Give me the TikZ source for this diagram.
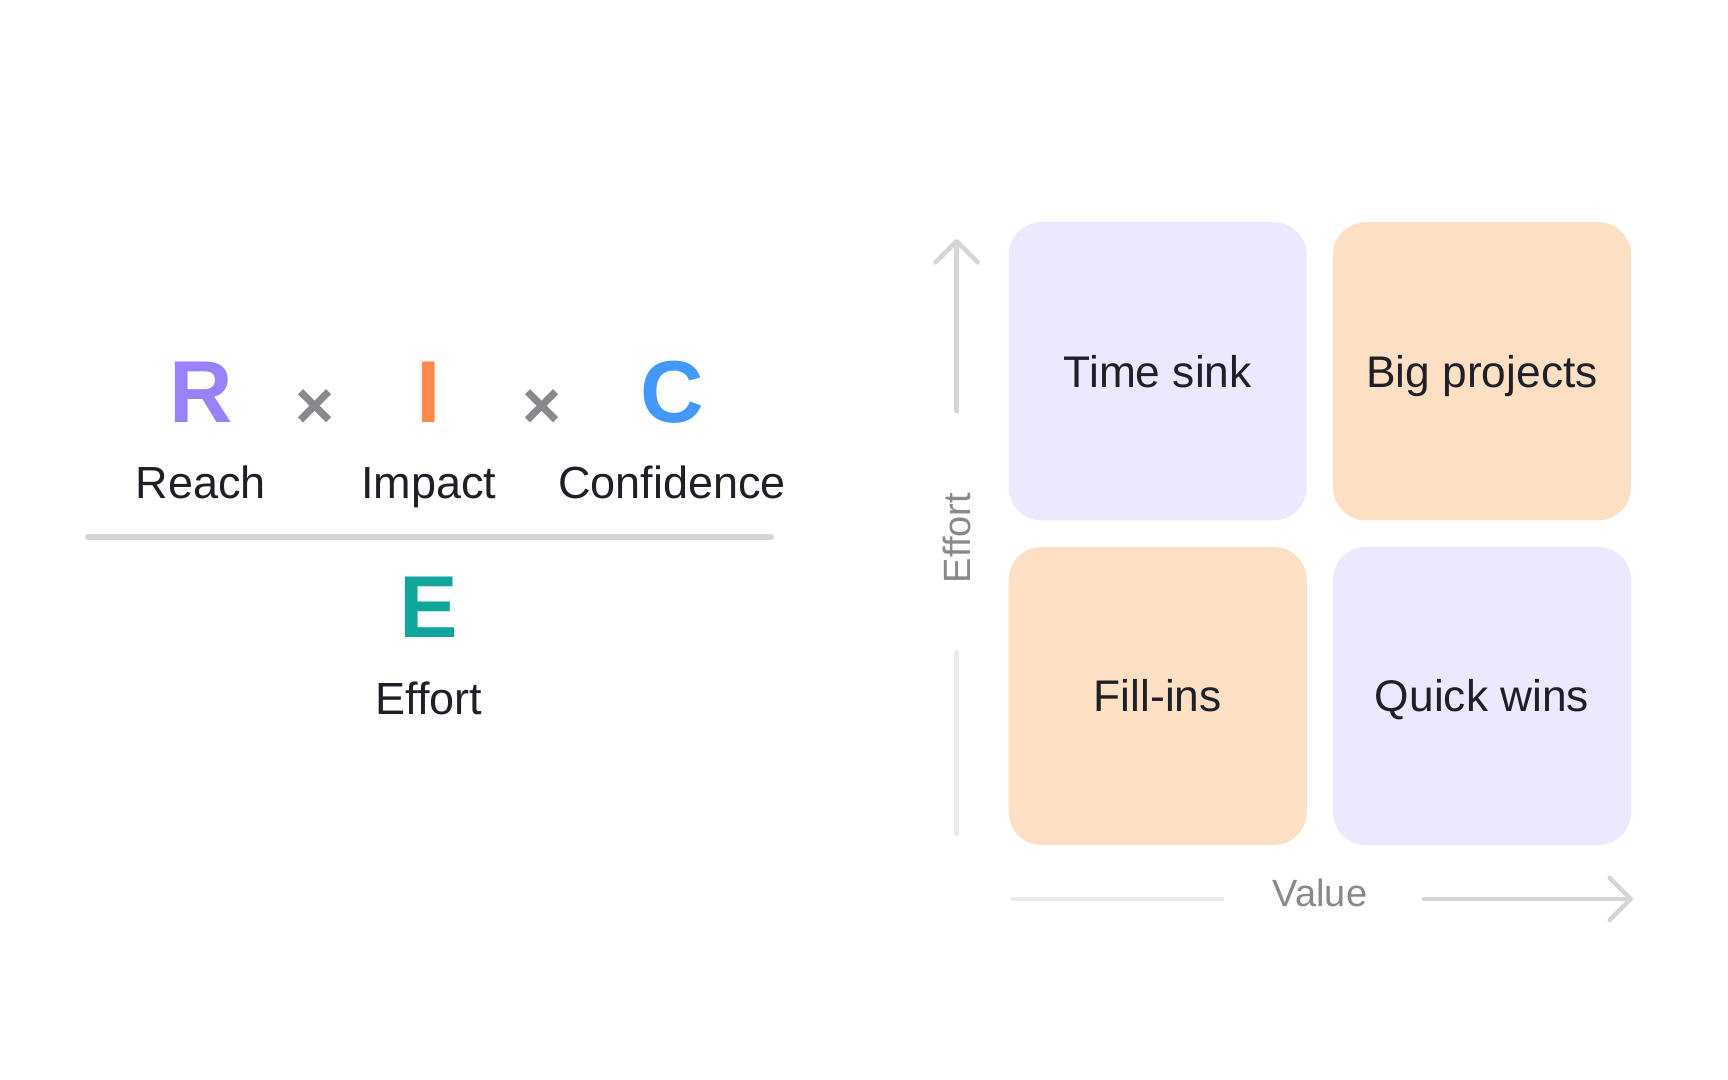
\documentclass[tikz,border=0pt]{standalone}
\usepackage{fontspec}
\setmainfont{Liberation Sans}
\usetikzlibrary{positioning,arrows.meta}
\definecolor{ink}{HTML}{1F1F28}
\definecolor{reachc}{HTML}{9A80FA}
\definecolor{impactc}{HTML}{FF884A}
\definecolor{confc}{HTML}{4299FB}
\definecolor{effortc}{HTML}{12A59C}
\definecolor{mutec}{HTML}{88888E}
\definecolor{axisdark}{HTML}{D5D5D7}
\definecolor{axislight}{HTML}{EAEAEB}
\definecolor{lav}{HTML}{ECE8FD}
\definecolor{peach}{HTML}{FDDFC3}

\begin{document}
\begin{tikzpicture}[x=0.01cm, y=-0.01cm,
  letter/.style={font=\fontsize{25}{25}\selectfont\bfseries, inner sep=0pt},
  lbl/.style={font=\fontsize{12.8}{14}\selectfont, text=ink, inner sep=0pt, anchor=base},
  timesop/.style={font=\fontsize{19}{19}\selectfont\bfseries, text=mutec, inner sep=0pt},
  quad/.style={rounded corners=0.33cm, minimum width=2.98cm, minimum height=2.98cm,
               text height=9pt, text depth=0pt,
               font=\fontsize{12.6}{14}\selectfont, text=ink},
  axlbl/.style={font=\fontsize{10.8}{12}\selectfont, text=mutec, inner sep=0pt},
  ax/.style={line width=1.3pt, line cap=round},
  arr/.style={ax, -{Straight Barb[length=6pt, width=12pt, round]}}]
\useasboundingbox[fill=white] (0,0) rectangle (1728,1080);

% RICE formula
\node[letter, text=reachc]  (r) at (201.7,392) {R};
\node[timesop]              (x1) at (315,409) {×};
\node[letter, text=impactc] (i) at (428.7,392) {I};
\node[timesop]              (x2) at (542,409) {×};
\node[letter, text=confc]   (c) at (672,392) {C};
\node[lbl] (rl) at (200.6,499) {Reach};
\node[lbl] (il) at (428.7,499) {Impact};
\node[lbl] (cl) at (672,499) {Confidence};
\coordinate (fl) at (88,537);
\coordinate (fr) at (771,537);
\draw[ax, line width=1.7pt, axisdark] (fl) -- (fr);
\node[letter, text=effortc] (e) at (428.7,607) {E};
\node[lbl] (el) at (428.7,715) {Effort};

% value / effort matrix
\node[quad, fill=lav]   (ts) at (1157.7,371.3) {Time sink};
\node[quad, fill=peach] (bp) at (1482,371.3) {Big projects};
\node[quad, fill=peach] (fi) at (1157.7,696) {Fill-ins};
\node[quad, fill=lav]   (qw) at (1482,696) {Quick wins};

\node[axlbl, rotate=90] (ey) at (956.6,538) {Effort};
\coordinate (ya) at (956.6,411);
\coordinate (yb) at (956.6,239);
\coordinate (yc) at (956.6,652);
\coordinate (yd) at (956.6,834);
\draw[arr, axisdark] (ya) -- (yb);
\draw[ax, axislight] (yc) -- (yd);

\node[axlbl, anchor=base] (vx) at (1320,906) {Value};
\coordinate (xa) at (1013,899);
\coordinate (xb) at (1222,899);
\coordinate (xc) at (1424,899);
\coordinate (xd) at (1633,899);
\draw[ax, axislight] (xa) -- (xb);
\draw[arr, axisdark] (xc) -- (xd);
\end{tikzpicture}
\end{document}
